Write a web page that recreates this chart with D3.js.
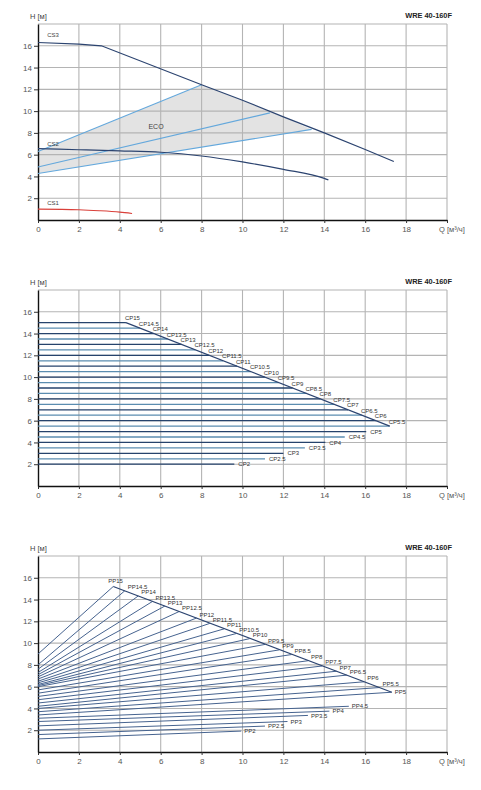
<!DOCTYPE html>
<html>
<head>
<meta charset="utf-8">
<script src="https://cdn.jsdelivr.net/npm/d3@7"></script>
<style>
  body { margin: 0; background: #fff; }
  svg { display: block; font-family: "Liberation Sans", Arial, sans-serif; }
</style>
</head>
<body>
<div id="chart"></div>
<script>
// axis ticks and grid
var qTicks = [0, 2, 4, 6, 8, 10, 12, 14, 16, 18]
var hTicks = [2, 4, 6, 8, 10, 12, 14, 16]
var gridQ = [2, 4, 6, 8, 10, 12, 14, 16, 18, 20]
var gridH = [2, 4, 6, 8, 10, 12, 14, 16, 18]
var title = "WRE 40-160F"

// chart 1: constant speed curves + ECO band
var cs3Q = [0, 2, 3.1, 8, 10, 12, 14, 16, 17.4]
var cs3H = [16.3, 16.15, 16.0, 12.42, 11.0, 9.47, 8.0, 6.48, 5.37]
var cs2Q = [0, 2, 4, 6, 8, 10, 12, 14, 14.2]
var cs2H = [6.55, 6.45, 6.35, 6.22, 5.88, 5.33, 4.65, 3.82, 3.68]
var cs1Q = [0, 2, 3, 4, 4.6]
var cs1H = [1.0, 0.94, 0.85, 0.72, 0.6]
var ecoStartH = [6.3, 4.87, 4.27]
var ecoEndQ = [8.0, 11.34, 13.38]
var ecoEndH = [12.42, 9.84, 8.32]

// chart 2: constant pressure lines
var cpValues = [15, 14.5, 14, 13.5, 13, 12.5, 12, 11.5, 11, 10.5, 10, 9.5, 9, 8.5, 8, 7.5, 7, 6.5, 6, 5.5, 5, 4.5, 4, 3.5, 3, 2.5, 2]
var cpEndQ = [4.3, 4.98, 5.66, 6.34, 7.02, 7.7, 8.37, 9.05, 9.73, 10.41, 11.09, 11.77, 12.45, 13.13, 13.81, 14.49, 15.16, 15.84, 16.52, 17.2, 16.05, 15.0, 14.05, 13.05, 12.0, 11.1, 9.6]
var cpLimitQ = [4.3, 17.2]
var cpLimitH = [15, 5.5]

// chart 3: proportional pressure lines
var ppValues = [15, 14.5, 14, 13.5, 13, 12.5, 12, 11.5, 11, 10.5, 10, 9.5, 9, 8.5, 8, 7.5, 7, 6.5, 6, 5.5, 5, 4.5, 4, 3.5, 3, 2.5, 2]
var ppStartH = [9.0, 8.0, 7.6, 7.3, 7.1, 6.9, 6.7, 6.5, 6.35, 6.2, 6.1, 6.0, 5.7, 5.4, 5.1, 4.8, 4.5, 4.2, 4.0, 3.7, 3.4, 3.1, 2.8, 2.4, 2.0, 1.6, 1.2]
var ppEndQ = [3.68, 4.24, 4.9, 5.6, 6.2, 6.9, 7.75, 8.4, 9.1, 9.7, 10.35, 11.1, 11.8, 12.4, 13.2, 13.9, 14.6, 15.1, 15.95, 16.7, 17.3, 15.2, 14.25, 13.2, 12.2, 11.1, 9.94]
var ppEndH = [15.2, 14.8, 14.33, 13.83, 13.4, 12.9, 12.3, 11.81, 11.31, 10.88, 10.41, 9.88, 9.38, 8.95, 8.38, 7.9, 7.42, 7.06, 6.45, 5.92, 5.49, 4.2, 3.75, 3.36, 2.8, 2.38, 1.92]
var ppLimitQ = [3.68, 17.3]
var ppLimitH = [15.2, 5.49]

var W = 481, H = 790
var svg = d3.select("#chart").append("svg").attr("width", W).attr("height", H)
svg.append("rect").attr("width", W).attr("height", H).attr("fill", "#fff")

var x = d3.scaleLinear().domain([0, 20]).range([38, 447])

function pairs(qs, hs) { return qs.map((q, i) => [q, hs[i]]) }

// builds one chart frame, returns its group and y scale
function frame(y0, under) {
  var g = svg.append("g")
  var y = d3.scaleLinear().domain([0, 18]).range([y0, y0 - 196])
  if (under) under(g, y)

  g.append("g").selectAll("line").data(gridQ).join("line")
    .attr("x1", d => x(d)).attr("x2", d => x(d))
    .attr("y1", y(0)).attr("y2", y(18))
    .attr("stroke", "#b4b4b4").attr("stroke-width", 1.1)
  g.append("g").selectAll("line").data(gridH).join("line")
    .attr("x1", x(0)).attr("x2", x(20))
    .attr("y1", d => y(d)).attr("y2", d => y(d))
    .attr("stroke", "#b4b4b4").attr("stroke-width", 1.1)

  var ax = g.append("g").attr("transform", "translate(0," + y0 + ")")
    .call(d3.axisBottom(x).tickValues(qTicks.concat([20]))
      .tickFormat(d => d == 20 ? "" : d).tickSize(3).tickSizeOuter(0))
  var ay = g.append("g").attr("transform", "translate(" + x(0) + ",0)")
    .call(d3.axisLeft(y).tickValues(hTicks).tickSize(4).tickPadding(2).tickSizeOuter(0))
  ;[ax, ay].forEach(a => {
    a.select(".domain").attr("stroke", "#111").attr("stroke-width", 1.4)
    a.selectAll(".tick line").attr("stroke", "#333")
    a.selectAll(".tick text").attr("font-size", 8).attr("fill", "#555")
      .attr("font-family", "Liberation Sans, Arial, sans-serif")
  })

  g.append("text").attr("x", 30).attr("y", y0 - 201.5)
    .attr("font-size", 7.5).attr("fill", "#444").text("H [м]")
  g.append("text").attr("x", x(20) - 8).attr("y", y0 + 11.5)
    .attr("font-size", 7.5).attr("fill", "#555").text("Q [м³/ч]")
  g.append("text").attr("x", 452).attr("y", y0 - 202).attr("text-anchor", "end")
    .attr("font-size", 7.4).attr("font-weight", "bold").attr("fill", "#222").text(title)
  return { g: g, y: y }
}

// ---- chart 1 ----
var c1 = frame(220, function(g, y) {
  var top = pairs(cs3Q, cs3H).filter(p => p[0] > ecoEndQ[0] && p[0] < ecoEndQ[2])
  var poly = [[0, ecoStartH[2]], [0, ecoStartH[0]], [ecoEndQ[0], ecoEndH[0]]]
    .concat(top).concat([[ecoEndQ[2], ecoEndH[2]]])
  g.append("path")
    .attr("d", d3.line().x(p => x(p[0])).y(p => y(p[1]))(poly) + "Z")
    .attr("fill", "#e3e3e3")
})
var straight1 = d3.line().x(p => x(p[0])).y(p => c1.y(p[1]))
var smooth1 = d3.line().x(p => x(p[0])).y(p => c1.y(p[1])).curve(d3.curveMonotoneX)
ecoStartH.forEach(function(h, i) {
  c1.g.append("line")
    .attr("x1", x(0)).attr("y1", c1.y(h))
    .attr("x2", x(ecoEndQ[i])).attr("y2", c1.y(ecoEndH[i]))
    .attr("stroke", "#64a8dc").attr("stroke-width", 1.1)
})
c1.g.append("path").attr("d", straight1(pairs(cs3Q, cs3H)))
  .attr("fill", "none").attr("stroke", "#2c4470").attr("stroke-width", 1.2)
c1.g.append("path").attr("d", smooth1(pairs(cs2Q, cs2H)))
  .attr("fill", "none").attr("stroke", "#2c4470").attr("stroke-width", 1.2)
c1.g.append("path").attr("d", smooth1(pairs(cs1Q, cs1H)))
  .attr("fill", "none").attr("stroke", "#d9403a").attr("stroke-width", 1.1)

var c1Labels = [["CS3", 0.45, 17.0], ["CS2", 0.45, 6.95], ["CS1", 0.45, 1.6], ["ECO", 5.4, 8.55]]
c1.g.selectAll(".lab").data(c1Labels).join("text")
  .attr("x", d => x(d[1])).attr("y", d => c1.y(d[2])).attr("dy", "0.35em")
  .attr("font-size", d => d[0] == "ECO" ? 7 : 6).attr("fill", "#444")
  .text(d => d[0])

// ---- chart 2 ----
var c2 = frame(486)
c2.g.append("g").selectAll("line").data(cpValues).join("line")
  .attr("x1", x(0)).attr("x2", (d, i) => x(cpEndQ[i]))
  .attr("y1", d => c2.y(d)).attr("y2", d => c2.y(d))
  .attr("stroke", d => d % 1 ? "#5b8db0" : "#26436c").attr("stroke-width", 1.3)
c2.g.append("line")
  .attr("x1", x(cpLimitQ[0])).attr("y1", c2.y(cpLimitH[0]))
  .attr("x2", x(cpLimitQ[1])).attr("y2", c2.y(cpLimitH[1]))
  .attr("stroke", "#2c4470").attr("stroke-width", 1.2)
c2.g.append("g").selectAll("text").data(cpValues).join("text")
  .attr("x", (d, i) => d > 5 ? x(cpEndQ[i]) - 1 : x(cpEndQ[i]) + 4)
  .attr("y", d => d > 5 ? c2.y(d) - 2.5 : c2.y(d))
  .attr("dy", d => d > 5 ? 0 : "0.35em")
  .attr("font-size", 6).attr("fill", "#333")
  .text(d => "CP" + d)

// ---- chart 3 ----
var c3 = frame(752)
c3.g.append("g").selectAll("line").data(ppValues).join("line")
  .attr("x1", x(0)).attr("y1", (d, i) => c3.y(ppStartH[i]))
  .attr("x2", (d, i) => x(ppEndQ[i])).attr("y2", (d, i) => c3.y(ppEndH[i]))
  .attr("stroke", "#46638f").attr("stroke-width", 1)
c3.g.append("line")
  .attr("x1", x(ppLimitQ[0])).attr("y1", c3.y(ppLimitH[0]))
  .attr("x2", x(ppLimitQ[1])).attr("y2", c3.y(ppLimitH[1]))
  .attr("stroke", "#2c4470").attr("stroke-width", 1.2)
c3.g.append("g").selectAll("text").data(ppValues).join("text")
  .attr("x", (d, i) => d == 15 ? x(ppEndQ[i]) - 5 : x(ppEndQ[i]) + 3)
  .attr("y", (d, i) => d == 15 ? c3.y(ppEndH[i]) - 3 : d > 5 ? c3.y(ppEndH[i]) - 1.5 : c3.y(ppEndH[i]))
  .attr("dy", d => d > 5 ? 0 : "0.35em")
  .attr("font-size", 6).attr("fill", "#333")
  .text(d => "PP" + d)
</script>
</body>
</html>
